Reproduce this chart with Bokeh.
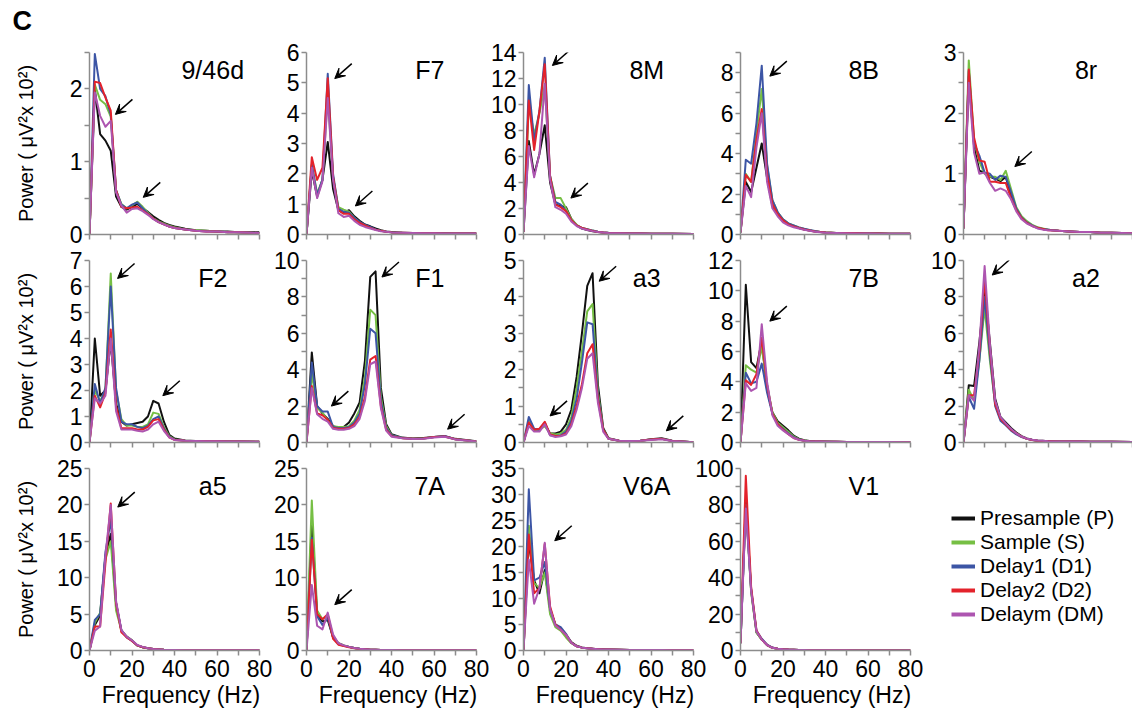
from bokeh.plotting import figure
from bokeh.layouts import row, column
from bokeh.models import Range1d, FixedTicker, Label, Arrow, VeeHead, Legend, LegendItem
from bokeh.embed import file_html
from bokeh.resources import INLINE

# ---------------- data ----------------
freq = [0, 2.5, 5, 7.5, 10, 12.5, 15, 17.5, 20, 22.5, 25, 27.5, 30, 32.5, 35, 37.5,
        40, 45, 50, 55, 60, 65, 70, 80]

series_names = ["Presample (P)", "Sample (S)", "Delay1 (D1)", "Delay2 (D2)", "Delaym (DM)"]
series_colors = ["#111111", "#76bf44", "#3c55a5", "#e3222b", "#ad55b0"]

x_major = [0, 20, 40, 60, 80]
x_minor = [10, 30, 50, 70]
x_ticks_all = [0, 10, 20, 30, 40, 50, 60, 70, 80]

# power values, order: P, S, D1, D2, DM
pw_9_46d = [
    [0, 2.00, 1.38, 1.29, 1.15, 0.52, 0.38, 0.34, 0.38, 0.42, 0.36, 0.31, 0.25, 0.20, 0.16, 0.13, 0.11, 0.08, 0.06, 0.05, 0.04, 0.04, 0.03, 0.03],
    [0, 2.06, 1.85, 1.79, 1.62, 0.60, 0.42, 0.36, 0.40, 0.45, 0.38, 0.30, 0.22, 0.18, 0.15, 0.12, 0.10, 0.07, 0.06, 0.05, 0.04, 0.03, 0.03, 0.02],
    [0, 2.48, 2.00, 1.90, 1.65, 0.61, 0.41, 0.36, 0.41, 0.44, 0.36, 0.29, 0.22, 0.17, 0.14, 0.11, 0.09, 0.07, 0.05, 0.04, 0.04, 0.03, 0.03, 0.02],
    [0, 2.10, 2.08, 1.88, 1.70, 0.61, 0.38, 0.36, 0.37, 0.38, 0.33, 0.28, 0.22, 0.17, 0.14, 0.11, 0.09, 0.07, 0.05, 0.04, 0.04, 0.03, 0.03, 0.02],
    [0, 1.95, 1.63, 1.48, 1.56, 0.58, 0.40, 0.30, 0.35, 0.36, 0.32, 0.27, 0.21, 0.17, 0.14, 0.11, 0.09, 0.07, 0.05, 0.04, 0.04, 0.03, 0.03, 0.02],
]
pw_F7 = [
    [0, 2.10, 1.25, 1.80, 3.05, 1.50, 0.80, 0.72, 0.80, 0.60, 0.45, 0.33, 0.27, 0.20, 0.14, 0.10, 0.08, 0.06, 0.05, 0.05, 0.04, 0.04, 0.03, 0.03],
    [0, 2.30, 1.35, 1.80, 4.60, 1.90, 0.90, 0.82, 0.75, 0.55, 0.40, 0.30, 0.22, 0.16, 0.12, 0.09, 0.07, 0.06, 0.05, 0.04, 0.04, 0.03, 0.03, 0.03],
    [0, 2.30, 1.30, 1.80, 5.30, 2.00, 0.85, 0.75, 0.72, 0.55, 0.42, 0.32, 0.25, 0.17, 0.12, 0.09, 0.07, 0.06, 0.05, 0.04, 0.04, 0.03, 0.03, 0.03],
    [0, 2.55, 1.80, 2.20, 5.15, 1.90, 0.80, 0.68, 0.68, 0.50, 0.38, 0.30, 0.22, 0.16, 0.12, 0.09, 0.07, 0.06, 0.05, 0.04, 0.04, 0.03, 0.03, 0.03],
    [0, 2.20, 1.20, 1.75, 4.50, 1.80, 0.70, 0.58, 0.62, 0.45, 0.32, 0.25, 0.20, 0.15, 0.11, 0.09, 0.07, 0.06, 0.05, 0.04, 0.04, 0.03, 0.03, 0.03],
]
pw_8M = [
    [0.2, 7.2, 4.6, 6.2, 8.4, 4.0, 2.3, 2.2, 2.1, 1.2, 0.7, 0.45, 0.35, 0.25, 0.2, 0.15, 0.12, 0.1, 0.08, 0.07, 0.06, 0.05, 0.05, 0.04],
    [0.2, 10.0, 7.7, 9.3, 11.5, 4.5, 2.8, 2.8, 2.0, 1.2, 0.75, 0.5, 0.4, 0.3, 0.22, 0.16, 0.13, 0.1, 0.08, 0.07, 0.06, 0.05, 0.05, 0.04],
    [0.2, 11.5, 7.2, 9.5, 13.6, 4.5, 2.5, 2.3, 1.8, 1.1, 0.7, 0.5, 0.4, 0.3, 0.22, 0.16, 0.13, 0.1, 0.08, 0.07, 0.06, 0.05, 0.05, 0.04],
    [0.2, 10.3, 6.5, 9.5, 13.1, 4.5, 2.3, 2.1, 1.8, 1.1, 0.7, 0.5, 0.38, 0.28, 0.2, 0.15, 0.12, 0.1, 0.08, 0.07, 0.06, 0.05, 0.05, 0.04],
    [0.2, 6.8, 4.4, 6.2, 11.6, 4.2, 2.1, 1.9, 1.6, 1.0, 0.65, 0.45, 0.35, 0.26, 0.2, 0.15, 0.12, 0.1, 0.08, 0.07, 0.06, 0.05, 0.05, 0.04],
]
pw_8B = [
    [0.1, 2.6, 2.1, 3.3, 4.5, 2.8, 1.4, 1.0, 0.65, 0.5, 0.4, 0.32, 0.25, 0.2, 0.15, 0.12, 0.1, 0.08, 0.07, 0.06, 0.05, 0.05, 0.04, 0.04],
    [0.1, 3.0, 2.6, 5.0, 7.2, 3.4, 1.7, 1.1, 0.75, 0.55, 0.45, 0.35, 0.27, 0.21, 0.16, 0.12, 0.1, 0.08, 0.07, 0.06, 0.05, 0.05, 0.04, 0.04],
    [0.1, 3.7, 3.5, 5.5, 8.35, 3.5, 1.7, 1.1, 0.75, 0.55, 0.45, 0.35, 0.28, 0.22, 0.17, 0.13, 0.1, 0.08, 0.07, 0.06, 0.05, 0.05, 0.04, 0.04],
    [0.1, 2.95, 2.6, 4.7, 6.2, 3.0, 1.5, 1.0, 0.7, 0.5, 0.4, 0.32, 0.25, 0.2, 0.15, 0.12, 0.1, 0.08, 0.07, 0.06, 0.05, 0.05, 0.04, 0.04],
    [0.1, 2.4, 1.85, 4.3, 6.0, 2.6, 1.3, 0.9, 0.6, 0.45, 0.36, 0.3, 0.23, 0.18, 0.14, 0.11, 0.09, 0.07, 0.06, 0.05, 0.05, 0.04, 0.04, 0.04],
]
pw_8r = [
    [0.1, 2.6, 1.45, 1.05, 1.02, 0.95, 0.92, 0.88, 0.95, 0.65, 0.42, 0.28, 0.2, 0.15, 0.11, 0.09, 0.08, 0.06, 0.05, 0.04, 0.04, 0.03, 0.03, 0.02],
    [0.1, 2.87, 1.55, 1.2, 1.0, 0.95, 0.95, 0.9, 1.05, 0.75, 0.45, 0.3, 0.22, 0.16, 0.12, 0.1, 0.08, 0.06, 0.05, 0.04, 0.04, 0.03, 0.03, 0.02],
    [0.1, 2.7, 1.5, 1.3, 1.02, 1.0, 0.9, 0.97, 0.95, 0.7, 0.43, 0.28, 0.2, 0.15, 0.11, 0.09, 0.08, 0.06, 0.05, 0.04, 0.04, 0.03, 0.03, 0.02],
    [0.1, 2.72, 1.6, 1.22, 1.2, 0.87, 0.87, 0.85, 0.85, 0.6, 0.4, 0.27, 0.19, 0.14, 0.11, 0.09, 0.07, 0.06, 0.05, 0.04, 0.04, 0.03, 0.03, 0.02],
    [0.1, 2.5, 1.35, 1.0, 1.02, 0.85, 0.72, 0.76, 0.72, 0.58, 0.38, 0.25, 0.18, 0.14, 0.1, 0.08, 0.07, 0.06, 0.05, 0.04, 0.04, 0.03, 0.03, 0.02],
]
pw_F2 = [
    [0, 4.0, 1.8, 2.0, 3.9, 1.5, 0.8, 0.65, 0.7, 0.75, 0.8, 1.0, 1.6, 1.5, 0.8, 0.3, 0.15, 0.08, 0.06, 0.05, 0.05, 0.04, 0.04, 0.03],
    [0, 2.0, 1.6, 2.0, 6.5, 2.0, 0.9, 0.65, 0.65, 0.6, 0.6, 0.7, 1.15, 1.1, 0.6, 0.25, 0.12, 0.07, 0.06, 0.05, 0.05, 0.04, 0.04, 0.03],
    [0, 2.25, 1.5, 2.1, 6.0, 2.1, 0.8, 0.7, 0.7, 0.6, 0.55, 0.65, 0.9, 1.0, 0.55, 0.22, 0.11, 0.07, 0.06, 0.05, 0.05, 0.04, 0.04, 0.03],
    [0, 1.8, 1.35, 1.9, 4.35, 1.4, 0.55, 0.55, 0.55, 0.5, 0.5, 0.6, 0.85, 0.9, 0.5, 0.2, 0.1, 0.07, 0.06, 0.05, 0.05, 0.04, 0.04, 0.03],
    [0, 1.7, 1.5, 1.8, 4.0, 1.2, 0.5, 0.5, 0.5, 0.45, 0.42, 0.5, 0.7, 0.8, 0.45, 0.2, 0.1, 0.07, 0.06, 0.05, 0.05, 0.04, 0.04, 0.03],
]
pw_F1 = [
    [0, 4.95, 2.0, 1.6, 1.3, 0.9, 0.8, 0.85, 1.1, 1.6, 2.2, 4.5, 9.1, 9.4, 3.0, 1.0, 0.45, 0.27, 0.22, 0.25, 0.3, 0.35, 0.2, 0.07],
    [0, 3.8, 1.9, 1.65, 1.2, 0.9, 0.85, 0.85, 0.9, 1.2, 1.8, 3.6, 7.3, 7.0, 2.5, 0.9, 0.4, 0.25, 0.2, 0.22, 0.3, 0.33, 0.18, 0.06],
    [0, 4.4, 2.0, 1.7, 1.7, 0.85, 0.8, 0.8, 0.85, 1.1, 1.6, 3.2, 6.25, 6.0, 2.3, 0.8, 0.4, 0.25, 0.2, 0.22, 0.3, 0.36, 0.18, 0.06],
    [0, 3.1, 1.6, 1.5, 1.25, 0.8, 0.75, 0.75, 0.8, 1.0, 1.4, 2.5, 4.55, 4.75, 2.0, 0.7, 0.35, 0.24, 0.2, 0.22, 0.3, 0.33, 0.18, 0.06],
    [0, 3.0, 1.55, 1.3, 1.15, 0.75, 0.7, 0.7, 0.75, 0.9, 1.3, 2.3, 4.3, 4.45, 1.9, 0.65, 0.32, 0.23, 0.19, 0.21, 0.28, 0.32, 0.17, 0.06],
]
pw_a3 = [
    [0, 0.55, 0.35, 0.35, 0.5, 0.25, 0.25, 0.3, 0.5, 0.9, 1.8, 3.0, 4.3, 4.65, 1.6, 0.4, 0.12, 0.05, 0.04, 0.05, 0.09, 0.12, 0.05, 0.01],
    [0, 0.6, 0.35, 0.35, 0.45, 0.25, 0.22, 0.25, 0.35, 0.7, 1.5, 2.5, 3.6, 3.8, 1.4, 0.35, 0.1, 0.05, 0.04, 0.05, 0.08, 0.1, 0.04, 0.01],
    [0, 0.7, 0.38, 0.35, 0.55, 0.2, 0.18, 0.2, 0.3, 0.6, 1.2, 2.2, 3.3, 3.25, 1.3, 0.35, 0.1, 0.05, 0.04, 0.05, 0.08, 0.1, 0.04, 0.01],
    [0, 0.55, 0.35, 0.38, 0.57, 0.22, 0.18, 0.18, 0.25, 0.5, 1.0, 1.6, 2.45, 2.7, 1.2, 0.35, 0.1, 0.05, 0.04, 0.05, 0.08, 0.1, 0.04, 0.01],
    [0, 0.45, 0.3, 0.3, 0.5, 0.2, 0.15, 0.17, 0.22, 0.45, 0.9, 1.5, 2.3, 2.45, 1.1, 0.3, 0.1, 0.05, 0.04, 0.05, 0.07, 0.09, 0.04, 0.01],
]
pw_7B = [
    [0, 10.4, 5.3, 4.9, 6.7, 3.5, 2.0, 1.4, 1.1, 0.8, 0.45, 0.25, 0.15, 0.1, 0.08, 0.07, 0.06, 0.05, 0.04, 0.04, 0.03, 0.03, 0.03, 0.02],
    [0, 5.1, 4.8, 4.6, 6.3, 3.8, 2.0, 1.3, 1.0, 0.7, 0.4, 0.22, 0.13, 0.09, 0.07, 0.06, 0.05, 0.05, 0.04, 0.04, 0.03, 0.03, 0.03, 0.02],
    [0, 4.6, 3.9, 4.0, 5.2, 3.3, 1.9, 1.2, 0.9, 0.6, 0.35, 0.2, 0.12, 0.09, 0.07, 0.06, 0.05, 0.05, 0.04, 0.04, 0.03, 0.03, 0.03, 0.02],
    [0, 4.1, 3.8, 4.5, 6.9, 3.8, 1.9, 1.2, 0.85, 0.55, 0.3, 0.18, 0.11, 0.08, 0.07, 0.06, 0.05, 0.05, 0.04, 0.04, 0.03, 0.03, 0.03, 0.02],
    [0, 3.9, 3.4, 3.6, 7.8, 4.0, 1.8, 1.1, 0.8, 0.55, 0.3, 0.18, 0.11, 0.08, 0.07, 0.06, 0.05, 0.05, 0.04, 0.04, 0.03, 0.03, 0.03, 0.02],
]
pw_a2 = [
    [0, 3.15, 3.1, 5.5, 8.4, 5.5, 2.4, 1.4, 1.1, 0.8, 0.55, 0.35, 0.22, 0.15, 0.11, 0.09, 0.07, 0.06, 0.05, 0.05, 0.04, 0.04, 0.04, 0.03],
    [0, 2.9, 2.3, 4.5, 7.4, 4.5, 2.1, 1.3, 1.0, 0.7, 0.5, 0.32, 0.2, 0.14, 0.1, 0.08, 0.07, 0.06, 0.05, 0.05, 0.04, 0.04, 0.04, 0.03],
    [0, 2.5, 1.85, 4.5, 8.0, 4.8, 2.0, 1.2, 0.95, 0.65, 0.45, 0.3, 0.2, 0.14, 0.1, 0.08, 0.07, 0.06, 0.05, 0.05, 0.04, 0.04, 0.04, 0.03],
    [0, 2.6, 2.6, 5.0, 9.0, 5.2, 2.1, 1.3, 1.0, 0.7, 0.5, 0.32, 0.2, 0.14, 0.1, 0.08, 0.07, 0.06, 0.05, 0.05, 0.04, 0.04, 0.04, 0.03],
    [0, 2.6, 2.3, 5.3, 9.7, 5.4, 2.3, 1.4, 1.05, 0.75, 0.5, 0.33, 0.21, 0.15, 0.11, 0.09, 0.07, 0.06, 0.05, 0.05, 0.04, 0.04, 0.04, 0.03],
]
pw_a5 = [
    [0, 3.5, 4.8, 13.0, 16.0, 6.5, 2.7, 1.9, 1.4, 0.7, 0.45, 0.3, 0.2, 0.15, 0.1, 0.08, 0.07, 0.05, 0.04, 0.04, 0.03, 0.03, 0.03, 0.02],
    [0, 3.8, 5.2, 12.5, 15.0, 5.5, 2.8, 1.9, 1.4, 0.7, 0.45, 0.3, 0.2, 0.15, 0.1, 0.08, 0.07, 0.05, 0.04, 0.04, 0.03, 0.03, 0.03, 0.02],
    [0, 4.2, 5.0, 13.5, 18.0, 6.5, 2.8, 1.8, 1.3, 0.7, 0.45, 0.3, 0.2, 0.15, 0.1, 0.08, 0.07, 0.05, 0.04, 0.04, 0.03, 0.03, 0.03, 0.02],
    [0, 3.3, 3.3, 12.0, 20.2, 6.5, 2.5, 1.8, 1.3, 0.7, 0.45, 0.3, 0.2, 0.15, 0.1, 0.08, 0.07, 0.05, 0.04, 0.04, 0.03, 0.03, 0.03, 0.02],
    [0, 2.7, 3.3, 13.0, 20.0, 6.8, 2.8, 1.9, 1.4, 0.75, 0.5, 0.3, 0.2, 0.15, 0.1, 0.08, 0.07, 0.05, 0.04, 0.04, 0.03, 0.03, 0.03, 0.02],
]
pw_7A = [
    [0, 17.5, 5.0, 4.0, 4.2, 1.8, 1.0, 0.7, 0.5, 0.35, 0.25, 0.18, 0.12, 0.1, 0.08, 0.07, 0.06, 0.05, 0.04, 0.04, 0.03, 0.03, 0.03, 0.02],
    [0, 20.6, 5.5, 4.3, 4.8, 2.0, 1.0, 0.7, 0.5, 0.35, 0.25, 0.18, 0.12, 0.1, 0.08, 0.07, 0.06, 0.05, 0.04, 0.04, 0.03, 0.03, 0.03, 0.02],
    [0, 15.5, 4.7, 3.5, 4.5, 1.8, 0.9, 0.65, 0.5, 0.35, 0.25, 0.18, 0.12, 0.1, 0.08, 0.07, 0.06, 0.05, 0.04, 0.04, 0.03, 0.03, 0.03, 0.02],
    [0, 15.2, 5.0, 4.3, 5.0, 1.6, 0.8, 0.6, 0.45, 0.3, 0.22, 0.16, 0.11, 0.09, 0.07, 0.06, 0.05, 0.05, 0.04, 0.04, 0.03, 0.03, 0.03, 0.02],
    [0, 9.0, 3.4, 2.9, 5.2, 2.2, 1.0, 0.7, 0.5, 0.35, 0.25, 0.18, 0.12, 0.1, 0.08, 0.07, 0.06, 0.05, 0.04, 0.04, 0.03, 0.03, 0.03, 0.02],
]
pw_V6A = [
    [0, 21.0, 13.5, 11.0, 15.5, 8.0, 5.0, 4.2, 3.0, 1.6, 0.9, 0.6, 0.45, 0.35, 0.28, 0.22, 0.18, 0.14, 0.12, 0.1, 0.09, 0.08, 0.07, 0.06],
    [0, 24.0, 13.0, 12.0, 15.0, 7.0, 4.5, 3.8, 2.5, 1.4, 0.8, 0.55, 0.42, 0.33, 0.26, 0.2, 0.17, 0.14, 0.12, 0.1, 0.09, 0.08, 0.07, 0.06],
    [0, 31.0, 13.5, 14.0, 17.0, 8.0, 5.0, 4.5, 3.2, 1.5, 0.8, 0.55, 0.42, 0.33, 0.26, 0.2, 0.17, 0.14, 0.12, 0.1, 0.09, 0.08, 0.07, 0.06],
    [0, 22.3, 11.0, 12.0, 20.5, 8.5, 5.0, 4.0, 3.0, 1.5, 0.8, 0.55, 0.42, 0.33, 0.26, 0.2, 0.17, 0.14, 0.12, 0.1, 0.09, 0.08, 0.07, 0.06],
    [0, 17.5, 9.0, 12.0, 20.7, 8.0, 4.8, 4.0, 3.0, 1.5, 0.8, 0.55, 0.42, 0.33, 0.26, 0.2, 0.17, 0.14, 0.12, 0.1, 0.09, 0.08, 0.07, 0.06],
]
pw_V1 = [
    [4, 82, 33, 10, 6.0, 3.0, 1.5, 1.0, 0.7, 0.5, 0.4, 0.3, 0.25, 0.2, 0.15, 0.12, 0.1, 0.08, 0.07, 0.06, 0.05, 0.05, 0.04, 0.04],
    [4, 80, 32, 10, 6.0, 3.0, 1.5, 1.0, 0.7, 0.5, 0.4, 0.3, 0.25, 0.2, 0.15, 0.12, 0.1, 0.08, 0.07, 0.06, 0.05, 0.05, 0.04, 0.04],
    [4, 80, 34, 11, 6.5, 3.2, 1.6, 1.0, 0.7, 0.5, 0.4, 0.3, 0.25, 0.2, 0.15, 0.12, 0.1, 0.08, 0.07, 0.06, 0.05, 0.05, 0.04, 0.04],
    [4, 96, 35, 11, 6.0, 3.0, 1.5, 1.0, 0.7, 0.5, 0.4, 0.3, 0.25, 0.2, 0.15, 0.12, 0.1, 0.08, 0.07, 0.06, 0.05, 0.05, 0.04, 0.04],
    [4, 78, 33, 10.5, 6.0, 3.0, 1.5, 1.0, 0.7, 0.5, 0.4, 0.3, 0.25, 0.2, 0.15, 0.12, 0.1, 0.08, 0.07, 0.06, 0.05, 0.05, 0.04, 0.04],
]

# panel: title, data, y max, y major ticks, y minor ticks, arrow tips (Hz, power)
panels = [
    [("9/46d", pw_9_46d, 2.5, [0, 1, 2], [0.5, 1.5, 2.5], [(12.2, 1.65), (25.3, 0.51)]),
     ("F7", pw_F7, 6, [0, 1, 2, 3, 4, 5, 6], [], [(13.3, 5.14), (23.0, 0.94)]),
     ("8M", pw_8M, 14, [0, 2, 4, 6, 8, 10, 12, 14], [], [(13.6, 13.0), (22.3, 2.8)]),
     ("8B", pw_8B, 9, [0, 2, 4, 6, 8], [1, 3, 5, 7, 9], [(13.8, 7.83)]),
     ("8r", pw_8r, 3, [0, 1, 2, 3], [0.5, 1.5, 2.5], [(24.3, 1.12)])],
    [("F2", pw_F2, 7, [0, 1, 2, 3, 4, 5, 6, 7], [], [(13.2, 6.31), (34.5, 1.8)]),
     ("F1", pw_F1, 10, [0, 2, 4, 6, 8, 10], [1, 3, 5, 7, 9], [(35.5, 9.09), (11.7, 2.0), (66.4, 0.73)]),
     ("a3", pw_a3, 5, [0, 1, 2, 3, 4, 5], [0.5, 1.5, 2.5, 3.5, 4.5], [(35.6, 4.43), (12.5, 0.73), (67.2, 0.32)]),
     ("7B", pw_7B, 12, [0, 2, 4, 6, 8, 10, 12], [], [(13.8, 8.0)]),
     ("a2", pw_a2, 10, [0, 2, 4, 6, 8, 10], [1, 3, 5, 7, 9], [(13.6, 9.2)])],
    [("a5", pw_a5, 25, [0, 5, 10, 15, 20, 25], [], [(13.3, 19.7)]),
     ("7A", pw_7A, 25, [0, 5, 10, 15, 20, 25], [], [(13.3, 6.3)]),
     ("V6A", pw_V6A, 35, [0, 5, 10, 15, 20, 25, 30, 35], [], [(14.7, 21.1)]),
     ("V1", pw_V1, 100, [0, 20, 40, 60, 80, 100], [10, 30, 50, 70, 90], [])],
]

# ---------------- layout / style ----------------
FONT = "Liberation Sans"
GRAY = "#8c8c8c"
FRAME_H = 182
col_left = [89, 50, 50, 50, 56]
col_right = [15, 15, 15, 15, 0]
col_fw = [170, 170, 170, 170, 169]
row_top = [70, 12, 12]          # first row: 18 px hidden above the page (negative margin)
row_shift = [-18, 0, 0]
row_bottom = [14, 14, 61]
ylab_standoff = [30, 30, 17]
OVERLAP = -18
TICK_FS = "23px"


def style_axis(ax):
    ax.axis_line_color = GRAY
    ax.axis_line_width = 1.5
    ax.major_tick_line_color = GRAY
    ax.minor_tick_line_color = GRAY
    ax.major_tick_line_width = 1.5
    ax.minor_tick_line_width = 1.5
    ax.major_tick_out = 5
    ax.major_tick_in = 0
    ax.minor_tick_out = 5
    ax.minor_tick_in = 0
    ax.major_label_text_font = FONT
    ax.major_label_text_font_size = TICK_FS
    ax.major_label_text_color = "black"
    ax.major_label_standoff = 2


def make_panel(r, c, spec):
    title, data, ymax, ymaj, ymin, arrows = spec
    w = col_left[c] + col_fw[c] + col_right[c]
    h = row_top[r] + FRAME_H + row_bottom[r]
    p = figure(width=w, height=h, x_range=Range1d(0, 80), y_range=Range1d(0, ymax),
               output_backend="svg", toolbar_location=None,
               min_border_left=col_left[c], min_border_right=col_right[c],
               min_border_top=row_top[r], min_border_bottom=row_bottom[r],
               background_fill_color=None, border_fill_color=None,
               outline_line_color=None)
    p.margin = (row_shift[r], 0, 0, OVERLAP if c > 0 else 0)
    p.grid.visible = False
    for ys, color in zip(data, series_colors):
        p.line(freq, ys, line_color=color, line_width=2, line_join="round")

    style_axis(p.xaxis[0])
    style_axis(p.yaxis[0])
    p.yaxis.ticker = FixedTicker(ticks=ymaj, minor_ticks=ymin)
    if r < 2:
        # unlabeled x axis: all ticks drawn as (label-less) minor ticks
        p.xaxis.ticker = FixedTicker(ticks=[], minor_ticks=x_ticks_all)
    else:
        p.xaxis.ticker = FixedTicker(ticks=x_major, minor_ticks=x_minor)
        p.xaxis.major_label_standoff = 4
        p.xaxis.axis_label = "\u00a0\u00a0Frequency (Hz)"
        p.xaxis.axis_label_text_font = FONT
        p.xaxis.axis_label_text_font_size = "23px"
        p.xaxis.axis_label_text_font_style = "normal"
        p.xaxis.axis_label_text_color = "black"
        p.xaxis.axis_label_standoff = 2
    if c == 0:
        p.yaxis.axis_label = "Power ( \u03bcV\u00b2x 10\u00b2)"
        p.yaxis.axis_label_text_font = FONT
        p.yaxis.axis_label_text_font_size = "20px"
        p.yaxis.axis_label_text_font_style = "normal"
        p.yaxis.axis_label_text_color = "black"
        p.yaxis.axis_label_standoff = ylab_standoff[r]

    p.add_layout(Label(x=58, y=ymax * (1 - 17 / FRAME_H), text=title,
                       text_align="center", text_baseline="middle",
                       text_font=FONT, text_font_size="25px", text_color="black"))
    dx = 17 * 80 / col_fw[c]
    dy = 15 * ymax / FRAME_H
    for tx, ty in arrows:
        p.add_layout(Arrow(end=VeeHead(size=10, fill_color="black", line_color="black", line_width=1),
                           x_start=tx + dx, y_start=ty + dy, x_end=tx, y_end=ty,
                           line_color="black", line_width=1.5))
    if r == 0 and c == 0:
        # panel letter as the first figure's title, shifted to the left edge
        p.title.text = "C"
        p.title.text_font = FONT
        p.title.text_font_size = "27px"
        p.title.text_font_style = "bold"
        p.title.text_color = "black"
        p.title.align = "left"
        p.title.offset = -77
        p.title.standoff = 34
    return p


rows = []
for r, specs in enumerate(panels):
    figs = [make_panel(r, c, s) for c, s in enumerate(specs)]
    if r == 2:
        w = col_left[4] + col_fw[4] + col_right[4]
        h = row_top[r] + FRAME_H + row_bottom[r]
        lf = figure(width=w, height=h, x_range=Range1d(0, 1), y_range=Range1d(0, 1),
                    output_backend="svg", toolbar_location=None,
                    x_axis_location=None, y_axis_location=None,
                    min_border=0, background_fill_color=None, border_fill_color=None,
                    outline_line_color=None)
        lf.margin = (0, 0, 0, OVERLAP)
        lf.grid.visible = False
        items = []
        for name, color in zip(series_names, series_colors):
            rr = lf.line(x=[float("nan")], y=[float("nan")], line_color=color, line_width=4)
            items.append(LegendItem(label=name, renderers=[rr]))
        legend = Legend(items=items, location=(44, 24), glyph_width=24, glyph_height=24,
                        label_height=24, label_standoff=5, spacing=0, padding=0, margin=0,
                        border_line_color=None, background_fill_alpha=0,
                        label_text_font=FONT, label_text_font_size="21px",
                        label_text_color="black")
        lf.add_layout(legend)
        figs.append(lf)
    rows.append(row(figs, spacing=0))

layout = column(rows, spacing=0)
open("out.html", "w").write(file_html(layout, INLINE))
